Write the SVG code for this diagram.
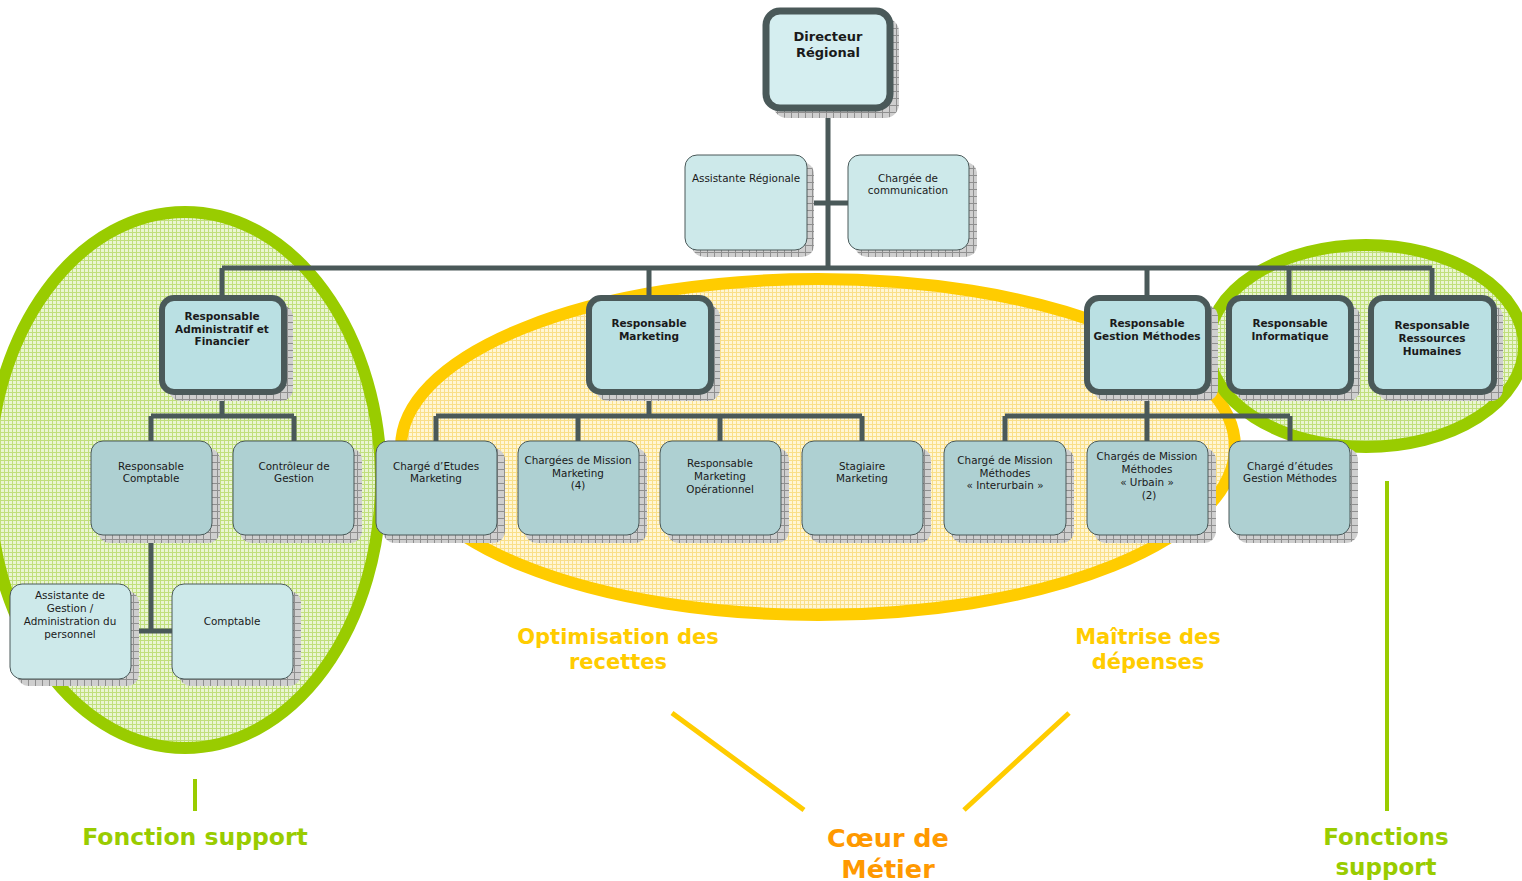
<svg xmlns="http://www.w3.org/2000/svg" width="1522" height="881" viewBox="0 0 1522 881">
<defs>
<pattern id="shadowPat" width="7" height="7" patternUnits="userSpaceOnUse">
<rect width="7" height="7" fill="#cfcfcf"/>
<path d="M0 0.5H7M0.5 0V7" stroke="#8f8f8f" stroke-width="1"/>
</pattern>
<pattern id="greenPat" width="4" height="4" patternUnits="userSpaceOnUse">
<rect width="4" height="4" fill="#eaf5d2"/>
<path d="M0 0.5H4M0.5 0V4" stroke="#c0df7c" stroke-width="1"/>
</pattern>
<pattern id="yellowPat" width="4" height="4" patternUnits="userSpaceOnUse">
<rect width="4" height="4" fill="#fff6d4"/>
<path d="M0 0.5H4M0.5 0V4" stroke="#f9df88" stroke-width="1"/>
</pattern>
</defs>
<style>
.sh{fill:url(#shadowPat);}
.top{fill:#d5eef0;stroke:#4a5959;stroke-width:7;}
.l2{fill:#bae0e3;stroke:#4a5959;stroke-width:6;}
.l3{fill:#aed0d2;stroke:#4a5959;stroke-width:1;}
.lt{fill:#cde9ea;stroke:#4a5959;stroke-width:1;}
.conn{stroke:#4a5959;stroke-width:5;fill:none;}
text{font-family:"DejaVu Sans",Verdana,sans-serif;fill:#1a1a1a;text-anchor:middle;}
.b{font-weight:bold;font-size:10.5px;}
.r{font-size:10.4px;}
.big{font-weight:bold;font-size:21px;}
.yl{fill:#ffcc00;}
.gr{fill:#99cc00;}
.or{fill:#ff9900;}
</style>

<g id="zones">
<ellipse cx="185" cy="480" rx="196" ry="268" fill="url(#greenPat)" stroke="#99cc00" stroke-width="12"/>
<ellipse cx="818" cy="447" rx="417" ry="168" fill="url(#yellowPat)" stroke="#ffcc00" stroke-width="12"/>
<ellipse cx="1366" cy="346" rx="158" ry="101" fill="url(#greenPat)" stroke="#99cc00" stroke-width="12"/>
</g>

<g id="connectors" class="conn">
<path d="M828 108V268"/>
<path d="M807 203H848"/>
<path d="M222 268H1432"/>
<path d="M222 268V298M649 268V298M1147 268V298M1289 268V298M1432 268V298"/>
<path d="M222 392V416M151 416H294M151 416V441M294 416V441"/>
<path d="M649 392V416M436 416H862M436 416V441M578 416V441M720 416V441M862 416V441"/>
<path d="M1147 392V416M1005 416H1290M1005 416V441M1147 416V441M1290 416V441"/>
<path d="M151 535V631M131 631H172"/>
</g>

<g id="n-directeur">
<rect class="sh" x="773" y="18" width="126" height="100" rx="14"/>
<rect class="top" x="766" y="11" width="124" height="97" rx="14"/>
<text class="b" style="font-size:13px" x="828" y="41">Directeur</text>
<text class="b" style="font-size:13px" x="828" y="57">Régional</text>
</g>

<g id="n-assistante-regionale">
<rect class="sh" x="692" y="162" width="122" height="95" rx="12"/>
<rect class="lt" x="685" y="155" width="122" height="95" rx="12"/>
<text class="r" x="746" y="182">Assistante Régionale</text>
</g>

<g id="n-chargee-communication">
<rect class="sh" x="855" y="162" width="122" height="95" rx="12"/>
<rect class="lt" x="848" y="155" width="121" height="95" rx="12"/>
<text class="r" x="908" y="182">Chargée de</text>
<text class="r" x="908" y="194">communication</text>
</g>

<g id="n-raf">
<rect class="sh" x="169" y="305" width="124" height="96" rx="12"/>
<rect class="l2" x="162" y="298" width="122" height="94" rx="12"/>
<text class="b" x="222" y="320">Responsable</text>
<text class="b" x="222" y="333">Administratif et</text>
<text class="b" x="222" y="345">Financier</text>
</g>

<g id="n-marketing">
<rect class="sh" x="596" y="305" width="124" height="96" rx="12"/>
<rect class="l2" x="589" y="298" width="122" height="94" rx="12"/>
<text class="b" x="649" y="327">Responsable</text>
<text class="b" x="649" y="340">Marketing</text>
</g>

<g id="n-rgm">
<rect class="sh" x="1094" y="305" width="124" height="96" rx="12"/>
<rect class="l2" x="1087" y="298" width="121" height="94" rx="12"/>
<text class="b" x="1147" y="327">Responsable</text>
<text class="b" x="1147" y="340">Gestion Méthodes</text>
</g>

<g id="n-informatique">
<rect class="sh" x="1236" y="305" width="124" height="96" rx="12"/>
<rect class="l2" x="1229" y="298" width="122" height="94" rx="12"/>
<text class="b" x="1290" y="327">Responsable</text>
<text class="b" x="1290" y="340">Informatique</text>
</g>

<g id="n-rrh">
<rect class="sh" x="1378" y="305" width="125" height="96" rx="12"/>
<rect class="l2" x="1371" y="298" width="123" height="94" rx="12"/>
<text class="b" x="1432" y="329">Responsable</text>
<text class="b" x="1432" y="342">Ressources</text>
<text class="b" x="1432" y="355">Humaines</text>
</g>

<g id="n-resp-comptable">
<rect class="sh" x="98" y="448" width="122" height="95" rx="12"/>
<rect class="l3" x="91" y="441" width="121" height="94" rx="12"/>
<text class="r" x="151" y="470">Responsable</text>
<text class="r" x="151" y="482">Comptable</text>
</g>

<g id="n-controleur">
<rect class="sh" x="240" y="448" width="122" height="95" rx="12"/>
<rect class="l3" x="233" y="441" width="121" height="94" rx="12"/>
<text class="r" x="294" y="470">Contrôleur de</text>
<text class="r" x="294" y="482">Gestion</text>
</g>

<g id="n-etudes-marketing">
<rect class="sh" x="383" y="448" width="122" height="95" rx="12"/>
<rect class="l3" x="376" y="441" width="121" height="94" rx="12"/>
<text class="r" x="436" y="470">Chargé d’Etudes</text>
<text class="r" x="436" y="482">Marketing</text>
</g>

<g id="n-mission-marketing">
<rect class="sh" x="525" y="448" width="122" height="95" rx="12"/>
<rect class="l3" x="518" y="441" width="121" height="94" rx="12"/>
<text class="r" x="578" y="464">Chargées de Mission</text>
<text class="r" x="578" y="477">Marketing</text>
<text class="r" x="578" y="489">(4)</text>
</g>

<g id="n-marketing-operationnel">
<rect class="sh" x="667" y="448" width="122" height="95" rx="12"/>
<rect class="l3" x="660" y="441" width="121" height="94" rx="12"/>
<text class="r" x="720" y="467">Responsable</text>
<text class="r" x="720" y="480">Marketing</text>
<text class="r" x="720" y="493">Opérationnel</text>
</g>

<g id="n-stagiaire">
<rect class="sh" x="809" y="448" width="122" height="95" rx="12"/>
<rect class="l3" x="802" y="441" width="121" height="94" rx="12"/>
<text class="r" x="862" y="470">Stagiaire</text>
<text class="r" x="862" y="482">Marketing</text>
</g>

<g id="n-mission-interurbain">
<rect class="sh" x="951" y="448" width="123" height="95" rx="12"/>
<rect class="l3" x="944" y="441" width="122" height="94" rx="12"/>
<text class="r" x="1005" y="464">Chargé de Mission</text>
<text class="r" x="1005" y="477">Méthodes</text>
<text class="r" x="1005" y="489">« Interurbain »</text>
</g>

<g id="n-mission-urbain">
<rect class="sh" x="1094" y="448" width="122" height="95" rx="12"/>
<rect class="l3" x="1087" y="441" width="121" height="94" rx="12"/>
<text class="r" x="1147" y="460">Chargés de Mission</text>
<text class="r" x="1147" y="473">Méthodes</text>
<text class="r" x="1147" y="486">« Urbain »</text>
<text class="r" x="1149" y="499">(2)</text>
</g>

<g id="n-etudes-methodes">
<rect class="sh" x="1236" y="448" width="122" height="95" rx="12"/>
<rect class="l3" x="1229" y="441" width="121" height="94" rx="12"/>
<text class="r" x="1290" y="470">Chargé d’études</text>
<text class="r" x="1290" y="482">Gestion Méthodes</text>
</g>

<g id="n-assistante-gestion">
<rect class="sh" x="17" y="591" width="122" height="95" rx="12"/>
<rect class="lt" x="10" y="584" width="121" height="95" rx="12"/>
<text class="r" x="70" y="599">Assistante de</text>
<text class="r" x="70" y="612">Gestion /</text>
<text class="r" x="70" y="625">Administration du</text>
<text class="r" x="70" y="638">personnel</text>
</g>

<g id="n-comptable">
<rect class="sh" x="179" y="591" width="122" height="95" rx="12"/>
<rect class="lt" x="172" y="584" width="121" height="95" rx="12"/>
<text class="r" x="232" y="625">Comptable</text>
</g>

<g id="annotations">
<text class="big yl" x="618" y="644">Optimisation des</text>
<text class="big yl" x="618" y="669">recettes</text>
<text class="big yl" x="1148" y="644">Maîtrise des</text>
<text class="big yl" x="1148" y="669">dépenses</text>
<path d="M672 713L804 810M1069 713L964 810" stroke="#ffcc00" stroke-width="5" fill="none"/>
<text class="big or" style="font-size:25.5px" x="888" y="847">Cœur de</text>
<text class="big or" style="font-size:25.5px" x="888" y="878">Métier</text>
<path d="M195 779V811" stroke="#99cc00" stroke-width="4"/>
<text class="big gr" style="font-size:23.5px" x="195" y="845">Fonction support</text>
<path d="M1387 481V811" stroke="#99cc00" stroke-width="4"/>
<text class="big gr" style="font-size:23px" x="1386" y="845">Fonctions</text>
<text class="big gr" style="font-size:23px" x="1386" y="875">support</text>
</g>
</svg>
